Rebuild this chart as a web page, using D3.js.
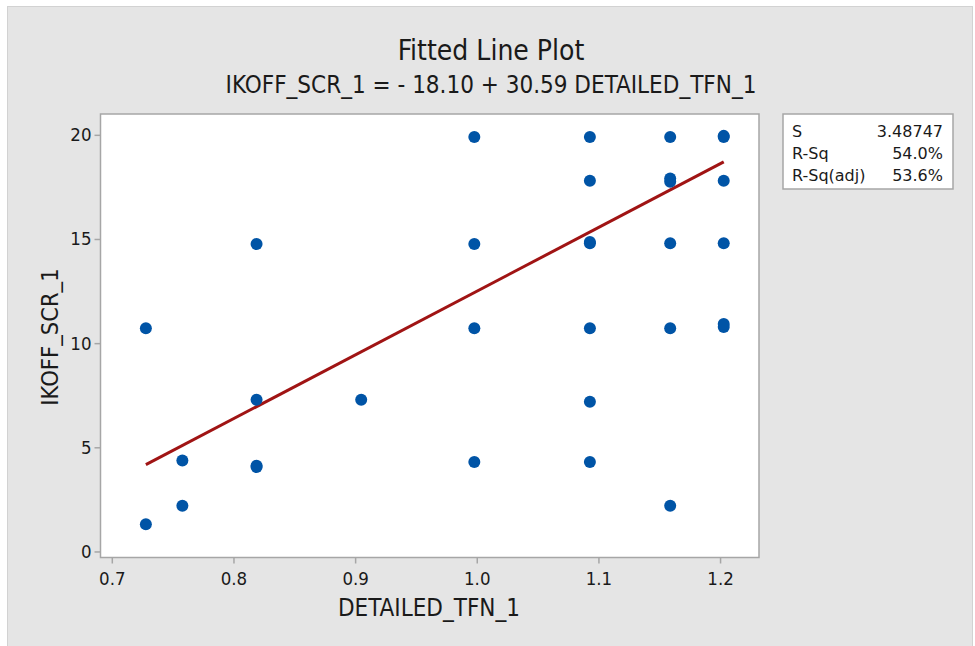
<!DOCTYPE html>
<html>
<head>
<meta charset="utf-8">
<script src="https://cdn.jsdelivr.net/npm/d3@7"></script>
<style>
  body { margin: 0; background: #ffffff; }
  svg { display: block; }
  .narrow { font-family: "DejaVu Sans Condensed", "Liberation Sans Narrow", sans-serif; }
</style>
</head>
<body>
<svg id="chart" width="975" height="646"></svg>
<script>
// data
const xValues = [0.728, 0.728, 0.758, 0.758, 0.819, 0.819, 0.819, 0.819, 0.905,
  0.998, 0.998, 0.998, 0.998,
  1.093, 1.093, 1.093, 1.093, 1.093, 1.093, 1.093,
  1.159, 1.159, 1.159, 1.159, 1.159, 1.159,
  1.203, 1.203, 1.203, 1.203, 1.203, 1.203];
const yValues = [10.72, 1.31, 4.37, 2.19, 14.76, 7.28, 4.05, 4.12, 7.28,
  19.9, 14.76, 10.72, 4.29,
  19.9, 17.8, 14.8, 14.85, 10.72, 7.19, 4.29,
  19.9, 17.75, 17.9, 14.8, 10.72, 2.19,
  19.9, 19.95, 17.8, 14.8, 10.78, 10.92];
const xTicks = [0.7, 0.8, 0.9, 1.0, 1.1, 1.2];
const yTicks = [0, 5, 10, 15, 20];
const intercept = -18.10;
const slope = 30.59;
const statLabels = ["S", "R-Sq", "R-Sq(adj)"];
const statValues = ["3.48747", "54.0%", "53.6%"];

const svg = d3.select("#chart");

// outer grey panel
svg.append("rect")
  .attr("x", 7.5).attr("y", 6.5)
  .attr("width", 965).attr("height", 660)
  .attr("fill", "#e5e5e5")
  .attr("stroke", "#d2d2d2");

const plot = { left: 100.5, top: 114, right: 759, bottom: 557.5 };

const x = d3.scaleLinear().domain([0.6907, 1.232]).range([plot.left, plot.right]);
const y = d3.scaleLinear().domain([-0.29, 21.0]).range([plot.bottom, plot.top]);

svg.append("rect")
  .attr("x", plot.left).attr("y", plot.top)
  .attr("width", plot.right - plot.left).attr("height", plot.bottom - plot.top)
  .attr("fill", "#ffffff")
  .attr("stroke", "#a6a6a6")
  .attr("stroke-width", 1.5);

// axes
const xAxis = svg.append("g")
  .attr("transform", `translate(0,${plot.bottom})`)
  .call(d3.axisBottom(x).tickValues(xTicks).tickFormat(d3.format(".1f")).tickSize(6).tickPadding(8));
const yAxis = svg.append("g")
  .attr("transform", `translate(${plot.left},0)`)
  .call(d3.axisLeft(y).tickValues(yTicks).tickSize(6).tickPadding(3));

[xAxis, yAxis].forEach(g => {
  g.select(".domain").remove();
  g.selectAll("line").attr("stroke", "#a6a6a6").attr("stroke-width", 1.5);
  g.selectAll("text")
    .attr("class", "narrow")
    .attr("font-size", 18.5)
    .attr("fill", "#1a1a1a");
});

// fitted line
const xMin = d3.min(xValues), xMax = d3.max(xValues);
svg.append("line")
  .attr("x1", x(xMin)).attr("y1", y(intercept + slope * xMin))
  .attr("x2", x(xMax)).attr("y2", y(intercept + slope * xMax))
  .attr("stroke", "#a01414")
  .attr("stroke-width", 3);

// points
svg.append("g")
  .selectAll("circle")
  .data(xValues.map((v, i) => [v, yValues[i]]))
  .join("circle")
  .attr("cx", d => x(d[0]))
  .attr("cy", d => y(d[1]))
  .attr("r", 6)
  .attr("fill", "#0054a6");

// titles
svg.append("text")
  .attr("class", "narrow")
  .attr("x", 491).attr("y", 60)
  .attr("text-anchor", "middle")
  .attr("font-size", 28)
  .attr("fill", "#1a1a1a")
  .text("Fitted Line Plot");

svg.append("text")
  .attr("class", "narrow")
  .attr("x", 491).attr("y", 93)
  .attr("text-anchor", "middle")
  .attr("font-size", 24)
  .attr("fill", "#1a1a1a")
  .text("IKOFF_SCR_1 = - 18.10 + 30.59 DETAILED_TFN_1");

svg.append("text")
  .attr("class", "narrow")
  .attr("x", 429).attr("y", 616)
  .attr("text-anchor", "middle")
  .attr("font-size", 24)
  .attr("fill", "#1a1a1a")
  .text("DETAILED_TFN_1");

svg.append("text")
  .attr("class", "narrow")
  .attr("transform", "translate(58,337) rotate(-90)")
  .attr("text-anchor", "middle")
  .attr("font-size", 23.5)
  .attr("fill", "#1a1a1a")
  .text("IKOFF_SCR_1");

// stats box
const box = svg.append("g").attr("transform", "translate(783,114)");
box.append("rect")
  .attr("width", 170).attr("height", 75)
  .attr("fill", "#ffffff")
  .attr("stroke", "#a6a6a6")
  .attr("stroke-width", 1.5);
statLabels.forEach((lab, i) => {
  box.append("text")
    .attr("x", 9).attr("y", 23 + i * 22)
    .attr("font-family", "DejaVu Sans, sans-serif")
    .attr("font-size", 16)
    .attr("fill", "#1a1a1a")
    .text(lab);
  box.append("text")
    .attr("x", 160).attr("y", 23 + i * 22)
    .attr("text-anchor", "end")
    .attr("font-family", "DejaVu Sans, sans-serif")
    .attr("font-size", 16)
    .attr("fill", "#1a1a1a")
    .text(statValues[i]);
});
</script>
</body>
</html>
